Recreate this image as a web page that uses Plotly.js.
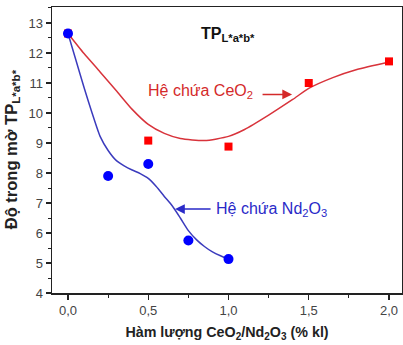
<!DOCTYPE html>
<html>
<head>
<meta charset="utf-8">
<script src="https://cdn.plot.ly/plotly-3.0.1.min.js"></script>
<style>
  html, body { margin: 0; padding: 0; background: #fff; }
  #chart { width: 403px; height: 345px; }
</style>
</head>
<body>
<div id="chart"></div>
<script>
// Measured points: CeO2-doped system
const ceContent = [0, 0.5, 1.0, 1.5, 2.0];
const ceHaze = [12.65, 9.08, 8.88, 11.0, 11.72];

// Measured points: Nd2O3-doped system
const ndContent = [0, 0.25, 0.5, 0.75, 1.0];
const ndHaze = [12.65, 7.9, 8.3, 5.75, 5.13];

// Fitted trend line, CeO2 system
const ceFitX = [0, 0.1, 0.2, 0.3, 0.4, 0.5, 0.6, 0.7, 0.85, 1.0, 1.1, 1.25, 1.4, 1.5, 1.65, 1.8, 2.0];
const ceFitY = [12.65, 11.98, 11.37, 10.75, 10.12, 9.62, 9.32, 9.15, 9.08, 9.22, 9.45, 9.93, 10.45, 10.82, 11.18, 11.45, 11.7];

// Fitted trend line, Nd2O3 system
const ndFitX = [0, 0.05, 0.1, 0.15, 0.2, 0.25, 0.3, 0.35, 0.4, 0.45, 0.5, 0.55, 0.6, 0.65, 0.7, 0.75, 0.8, 0.85, 0.9, 0.95, 1.0];
const ndFitY = [12.65, 11.75, 10.85, 10.0, 9.22, 8.75, 8.42, 8.24, 8.1, 7.98, 7.82, 7.55, 7.22, 6.9, 6.5, 6.08, 5.78, 5.55, 5.37, 5.24, 5.13];

const font = 'Arial, "Liberation Sans", sans-serif';
const redLine = '#d8333b';
const blueLine = '#3b3bbd';

const traces = [
  { x: ceFitX, y: ceFitY, mode: 'lines', line: { color: redLine, width: 1.5, shape: 'spline', smoothing: 0.6 }, hoverinfo: 'skip' },
  { x: ndFitX, y: ndFitY, mode: 'lines', line: { color: blueLine, width: 1.5, shape: 'spline', smoothing: 0.6 }, hoverinfo: 'skip' },
  { x: ceContent, y: ceHaze, mode: 'markers', marker: { symbol: 'square', size: 8, color: '#ff0000' } },
  { x: ndContent, y: ndHaze, mode: 'markers', marker: { symbol: 'circle', size: 10, color: '#0000ff' } }
];

const layout = {
  width: 403, height: 345,
  margin: { l: 52, r: 1, t: 7, b: 52 },
  paper_bgcolor: '#fff', plot_bgcolor: '#fff',
  showlegend: false,
  separators: ', ',
  font: { family: font, color: '#222' },
  xaxis: {
    range: [-0.0997, 2.081],
    tickvals: [0, 0.5, 1.0, 1.5, 2.0],
    tickformat: '.1f',
    ticks: 'outside', ticklen: 5, tickwidth: 1.2, tickcolor: '#222',
    minor: { dtick: 0.25, tick0: 0, ticks: 'outside', ticklen: 3, tickwidth: 1, tickcolor: '#222', showgrid: false },
    showgrid: false, zeroline: false,
    showline: true, linecolor: '#222', linewidth: 1.5, mirror: true,
    tickfont: { size: 13, color: '#444' },
    title: { text: '<b>Hàm lượng CeO<sub>2</sub>/Nd<sub>2</sub>O<sub>3</sub> (% kl)</b>', font: { size: 14.3, color: '#222' }, standoff: 10 }
  },
  yaxis: {
    range: [4, 13.533],
    dtick: 1, tick0: 4,
    ticks: 'outside', ticklen: 5, tickwidth: 1.2, tickcolor: '#222',
    minor: { dtick: 0.5, tick0: 4, ticks: 'outside', ticklen: 3, tickwidth: 1, tickcolor: '#222', showgrid: false },
    showgrid: false, zeroline: false,
    showline: true, linecolor: '#222', linewidth: 1.5, mirror: true,
    tickfont: { size: 13, color: '#444' }
  },
  annotations: [
    // y-axis title, placed explicitly
    { xref: 'paper', yref: 'paper', x: -0.114, y: 0.503, xanchor: 'center', yanchor: 'middle', textangle: -90,
      text: '<b>Độ trong mờ TP<sub>L*a*b*</sub></b>', showarrow: false, font: { size: 16.5, color: '#222' } },
    { xref: 'paper', yref: 'paper', x: 0.42, y: 0.905, xanchor: 'left', yanchor: 'middle',
      text: '<b>TP<sub>L*a*b*</sub></b>', showarrow: false, font: { size: 16, color: '#111' } },
    { xref: 'x', yref: 'y', x: 0.485, y: 10.73, xanchor: 'left', yanchor: 'middle',
      text: 'Hệ chứa CeO<sub>2</sub>', showarrow: false, font: { size: 16, color: '#d42a2a' } },
    { xref: 'x', yref: 'y', x: 1.396, y: 10.62, text: '', showarrow: true,
      ax: -31, ay: 0, arrowhead: 2, arrowsize: 1.3, arrowwidth: 1.5, arrowcolor: '#d42a2a' },
    { xref: 'x', yref: 'y', x: 0.911, y: 6.8, xanchor: 'left', yanchor: 'middle',
      text: 'Hệ chứa Nd<sub>2</sub>O<sub>3</sub>', showarrow: false, font: { size: 16, color: '#2a2ac8' } },
    { xref: 'x', yref: 'y', x: 0.667, y: 6.8, text: '', showarrow: true,
      ax: 37, ay: 0, arrowhead: 2, arrowsize: 1.3, arrowwidth: 1.5, arrowcolor: '#2a2ac8' }
  ]
};

Plotly.newPlot('chart', traces, layout, { staticPlot: true, displayModeBar: false });
</script>
</body>
</html>
